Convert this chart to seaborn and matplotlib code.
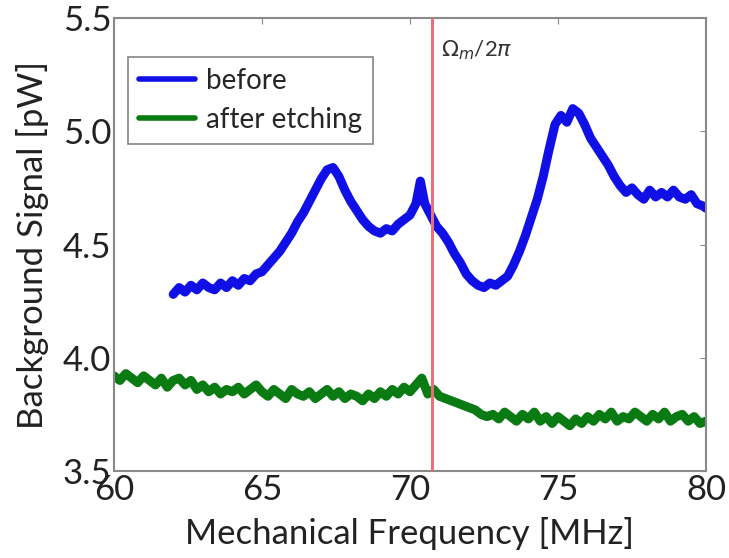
import numpy as np
import pandas as pd
import matplotlib
matplotlib.use("Agg")
import matplotlib.pyplot as plt
import seaborn as sns

# Background signal spectra (pW) versus mechanical frequency (MHz)
freq_before = [
    62.0, 62.2, 62.4, 62.6, 62.8, 63.0, 63.2, 63.4, 63.6, 63.8,
    64.0, 64.2, 64.4, 64.6, 64.8, 65.0, 65.2, 65.4, 65.6, 65.8,
    66.0, 66.2, 66.4, 66.6, 66.8, 67.0, 67.2, 67.4, 67.6, 67.8,
    68.0, 68.2, 68.4, 68.6, 68.8, 69.0, 69.2, 69.4, 69.6, 69.8,
    70.0, 70.2, 70.35, 70.5, 70.7, 70.9, 71.1, 71.3, 71.5, 71.7,
    71.9, 72.1, 72.3, 72.5, 72.7, 72.9, 73.1, 73.3, 73.5, 73.7,
    73.9, 74.1, 74.3, 74.5, 74.7, 74.9, 75.1, 75.3, 75.5, 75.7,
    75.9, 76.1, 76.3, 76.5, 76.7, 76.9, 77.1, 77.3, 77.5, 77.7,
    77.9, 78.1, 78.3, 78.5, 78.7, 78.9, 79.1, 79.3, 79.5, 79.7,
    79.9, 80.0,
]
signal_before = [
    4.28, 4.31, 4.29, 4.32, 4.30, 4.33, 4.31, 4.30, 4.33, 4.31,
    4.34, 4.32, 4.35, 4.34, 4.37, 4.38, 4.41, 4.44, 4.47, 4.51,
    4.55, 4.60, 4.64, 4.69, 4.74, 4.79, 4.83, 4.84, 4.80, 4.74,
    4.69, 4.65, 4.61, 4.58, 4.56, 4.55, 4.57, 4.56, 4.59, 4.61,
    4.63, 4.68, 4.78, 4.68, 4.63, 4.58, 4.55, 4.51, 4.46, 4.42,
    4.37, 4.34, 4.32, 4.31, 4.33, 4.32, 4.34, 4.36, 4.41, 4.47,
    4.54, 4.62, 4.70, 4.80, 4.92, 5.03, 5.07, 5.04, 5.10, 5.08,
    5.03, 4.97, 4.93, 4.89, 4.85, 4.80, 4.76, 4.73, 4.75, 4.72,
    4.70, 4.74, 4.71, 4.73, 4.71, 4.74, 4.71, 4.70, 4.72, 4.68,
    4.67, 4.66,
]

freq_after = [round(60.0 + 0.2 * i, 1) for i in range(101)]
signal_after = [
    3.92, 3.90, 3.93, 3.91, 3.89, 3.92, 3.90, 3.88, 3.91, 3.87,
    3.90, 3.91, 3.88, 3.90, 3.86, 3.88, 3.85, 3.87, 3.84, 3.86,
    3.85, 3.87, 3.84, 3.86, 3.88, 3.85, 3.83, 3.86, 3.84, 3.82,
    3.86, 3.84, 3.83, 3.85, 3.82, 3.84, 3.86, 3.83, 3.85, 3.82,
    3.84, 3.83, 3.81, 3.84, 3.82, 3.85, 3.83, 3.86, 3.84, 3.87,
    3.85, 3.88, 3.91, 3.84, 3.86, 3.83, 3.82, 3.81, 3.80, 3.79,
    3.78, 3.77, 3.75, 3.74, 3.75, 3.73, 3.76, 3.74, 3.72, 3.75,
    3.73, 3.76, 3.72, 3.74, 3.71, 3.74, 3.72, 3.70, 3.73, 3.71,
    3.74, 3.72, 3.75, 3.73, 3.76, 3.72, 3.74, 3.73, 3.76, 3.74,
    3.72, 3.75, 3.73, 3.76, 3.72, 3.74, 3.75, 3.72, 3.74, 3.71,
    3.72,
]

series_labels = ["before", "after etching"]
series_colors = ["#1010e6", "#0a7a12"]
omega_m = 70.75  # mechanical resonance marker (MHz)
x_ticks = [60, 65, 70, 75, 80]
y_ticks = [3.5, 4.0, 4.5, 5.0, 5.5]

df = pd.concat([
    pd.DataFrame({"freq": freq_before, "signal": signal_before, "series": series_labels[0]}),
    pd.DataFrame({"freq": freq_after, "signal": signal_after, "series": series_labels[1]}),
], ignore_index=True)

sns.set_style("white")
plt.rcParams["font.family"] = ["Lato", "DejaVu Sans"]
plt.rcParams["mathtext.fontset"] = "dejavusans"

fig = plt.figure(figsize=(7.29, 5.58), dpi=100)
ax = fig.add_axes([0.1564, 0.1559, 0.812, 0.8118])

sns.lineplot(data=df, x="freq", y="signal", hue="series", hue_order=series_labels,
             palette=series_colors, linewidth=6.5, ax=ax, sort=True, estimator=None)

ax.axvline(omega_m, color="#e8707a", linewidth=2.2, zorder=3)
ax.text(omega_m + 0.3, 5.36, r"$\Omega_m$/2$\pi$", fontsize=16, color="#333333",
        va="center", ha="left")

ax.set_xlim(60, 80)
ax.set_ylim(3.5, 5.5)
ax.set_xticks(x_ticks)
ax.set_yticks(y_ticks)
ax.set_xticklabels([str(t) for t in x_ticks])
ax.set_yticklabels([f"{t:.1f}" for t in y_ticks])
ax.tick_params(axis="both", direction="in", length=4, width=0.8, color="#888888",
               labelsize=25, labelcolor="#222222", top=True, right=True, pad=2)
for sp in ax.spines.values():
    sp.set_color("#8a8a8a")
    sp.set_linewidth(1.5)

ax.set_xlabel("Mechanical Frequency [MHz]", fontsize=25, color="#222222", labelpad=8)
ax.set_ylabel("Background Signal [pW]", fontsize=25, color="#222222", labelpad=10)

leg = ax.legend(loc="upper left", bbox_to_anchor=(0.024, 0.914), fontsize=20,
                frameon=True, fancybox=False, handlelength=2.0, handletextpad=0.4,
                borderpad=0.4, labelspacing=0.45, borderaxespad=0)
leg.get_frame().set_edgecolor("#666666")
leg.get_frame().set_linewidth(1.2)
for line in leg.get_lines():
    line.set_linewidth(4.0)

fig.savefig("out.png", dpi=100)
